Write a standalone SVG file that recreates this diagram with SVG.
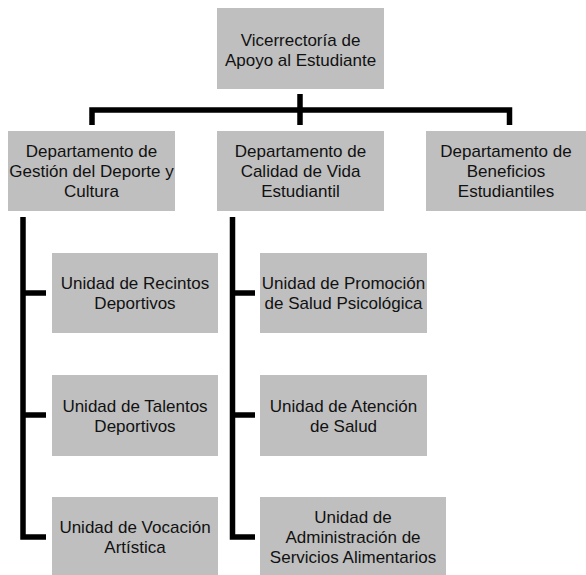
<svg xmlns="http://www.w3.org/2000/svg" width="586" height="575" viewBox="0 0 586 575">
<style>
.box{fill:#BFBFBF;}
.t{font-family:"Liberation Sans",Arial,sans-serif;font-size:17px;fill:#111;text-anchor:middle;}
.c{fill:none;stroke:#000;stroke-width:5.5;stroke-linejoin:miter;stroke-linecap:butt;}
</style>
<rect width="586" height="575" fill="#fff"/>
<g id="connectors">
<path class="c" d="M92,125 V110 H509.5 V125"/>
<path class="c" d="M300,94 V125"/>
<path class="c" d="M23,217 V537 H46"/>
<path class="c" d="M23,293 H46 M23,415 H46"/>
<path class="c" d="M232.5,217 V537 H255"/>
<path class="c" d="M232.5,293 H255 M232.5,415 H255"/>
</g>
<g id="vicerrectoria">
<rect class="box" x="217" y="8" width="167" height="81"/>
<text class="t" x="300.5" y="46">Vicerrectoría de</text>
<text class="t" x="300.5" y="66">Apoyo al Estudiante</text>
</g>
<g id="dep-deporte">
<rect class="box" x="8" y="131" width="167" height="80"/>
<text class="t" x="91.5" y="157">Departamento de</text>
<text class="t" x="91.5" y="177">Gestión del Deporte y</text>
<text class="t" x="91.5" y="197">Cultura</text>
</g>
<g id="dep-calidad">
<rect class="box" x="217" y="131" width="167" height="80"/>
<text class="t" x="300.5" y="157">Departamento de</text>
<text class="t" x="300.5" y="177">Calidad de Vida</text>
<text class="t" x="300.5" y="197">Estudiantil</text>
</g>
<g id="dep-beneficios">
<rect class="box" x="426" y="131" width="160" height="80"/>
<text class="t" x="506" y="157">Departamento de</text>
<text class="t" x="506" y="177">Beneficios</text>
<text class="t" x="506" y="197">Estudiantiles</text>
</g>
<g id="u-recintos">
<rect class="box" x="52" y="253" width="166" height="80"/>
<text class="t" x="135" y="289">Unidad de Recintos</text>
<text class="t" x="135" y="309">Deportivos</text>
</g>
<g id="u-talentos">
<rect class="box" x="52" y="375" width="166" height="81"/>
<text class="t" x="135" y="412">Unidad de Talentos</text>
<text class="t" x="135" y="432">Deportivos</text>
</g>
<g id="u-vocacion">
<rect class="box" x="52" y="497" width="166" height="80"/>
<text class="t" x="135" y="533">Unidad de Vocación</text>
<text class="t" x="135" y="553">Artística</text>
</g>
<g id="u-promocion">
<rect class="box" x="260" y="253" width="167" height="80"/>
<text class="t" x="343.5" y="289">Unidad de Promoción</text>
<text class="t" x="343.5" y="309">de Salud Psicológica</text>
</g>
<g id="u-atencion">
<rect class="box" x="260" y="375" width="167" height="81"/>
<text class="t" x="343.5" y="412">Unidad de Atención</text>
<text class="t" x="343.5" y="432">de Salud</text>
</g>
<g id="u-alimentarios">
<rect class="box" x="260" y="497" width="186" height="80"/>
<text class="t" x="353" y="523">Unidad de</text>
<text class="t" x="353" y="543">Administración de</text>
<text class="t" x="353" y="563">Servicios Alimentarios</text>
</g>
</svg>
